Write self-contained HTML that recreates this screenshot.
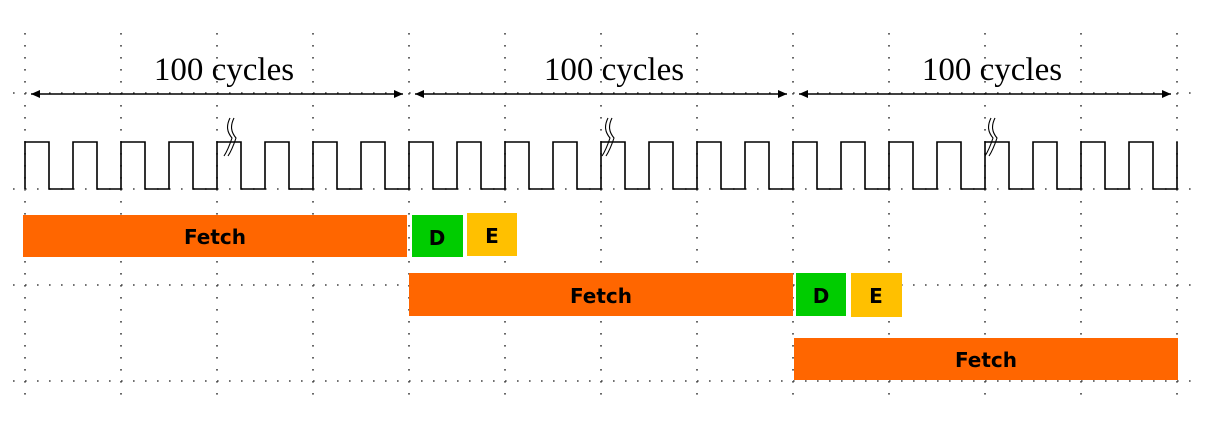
<!DOCTYPE html>
<html><head><meta charset="utf-8"><style>
html,body{margin:0;padding:0;background:#fff;}
svg{display:block;}
.t{font-family:"Liberation Serif",serif;font-size:33px;fill:#000;}
.b{font-family:"DejaVu Sans","Liberation Sans",sans-serif;font-weight:bold;font-size:20px;fill:#000;}
</style></head><body>
<svg width="1215" height="433" viewBox="0 0 1215 433" xmlns="http://www.w3.org/2000/svg">
<g stroke="#444" stroke-width="1.6" stroke-dasharray="1.6 10.4" fill="none">
<path d="M25 33V400M121 33V400M217 33V400M313 33V400M409 33V400M505 33V400M601 33V400M697 33V400M793 33V400M889 33V400M985 33V400M1081 33V400M1177 33V400"/>
<path d="M13 93H1200M13 189H1200M13 285H1200M13 381H1200"/>
</g>
<g class="t" text-anchor="middle">
<text x="224" y="80">100 cycles</text>
<text x="614" y="80">100 cycles</text>
<text x="992" y="80">100 cycles</text>
</g>
<g stroke="#000" stroke-width="1.5">
<line x1="31" y1="94" x2="403" y2="94"/>
<line x1="415" y1="94" x2="787" y2="94"/>
<line x1="799" y1="94" x2="1171" y2="94"/>
</g>
<g fill="#000">
<path d="M31 94l9-4v8z"/><path d="M403 94l-9-4v8z"/>
<path d="M415 94l9-4v8z"/><path d="M787 94l-9-4v8z"/>
<path d="M799 94l9-4v8z"/><path d="M1171 94l-9-4v8z"/>
</g>
<path id="clk" fill="none" stroke="#000" stroke-width="1.6" d="M25 189V142H49V189H73V142H97V189H121V142H145V189H169V142H193V189H217V142H241V189H265V142H289V189H313V142H337V189H361V142H385V189H409V142H433V189H457V142H481V189H505V142H529V189H553V142H577V189H601V142H625V189H649V142H673V189H697V142H721V189H745V142H769V189H793V142H817V189H841V142H865V189H889V142H913V189H937V142H961V189H985V142H1009V189H1033V142H1057V189H1081V142H1105V189H1129V142H1153V189H1177V142"/>
<g fill="none" stroke="#000" stroke-width="1.1">
<path d="M230 118c-4 8-3 14 2 20c-2 6-4 12-8 18M234 118c-4 8-3 14 2 20c-2 6-4 12-8 18"/>
<path d="M608 118c-4 8-3 14 2 20c-2 6-4 12-8 18M612 118c-4 8-3 14 2 20c-2 6-4 12-8 18"/>
<path d="M991 118c-4 8-3 14 2 20c-2 6-4 12-8 18M995 118c-4 8-3 14 2 20c-2 6-4 12-8 18"/>
</g>
<rect x="23" y="215" width="384" height="42" fill="#FF6600"/>
<rect x="412" y="215" width="51" height="42" fill="#00CC00"/>
<rect x="467" y="213" width="50" height="43" fill="#FFC000"/>
<rect x="409" y="273" width="384" height="43" fill="#FF6600"/>
<rect x="796" y="273" width="50" height="43" fill="#00CC00"/>
<rect x="851" y="273" width="51" height="44" fill="#FFC000"/>
<rect x="794" y="338" width="384" height="42" fill="#FF6600"/>
<g class="b" text-anchor="middle">
<text x="215" y="244">Fetch</text>
<text x="437" y="245">D</text>
<text x="492" y="243">E</text>
<text x="601" y="303">Fetch</text>
<text x="821" y="303">D</text>
<text x="876" y="303">E</text>
<text x="986" y="367">Fetch</text>
</g>
</svg>
</body></html>
